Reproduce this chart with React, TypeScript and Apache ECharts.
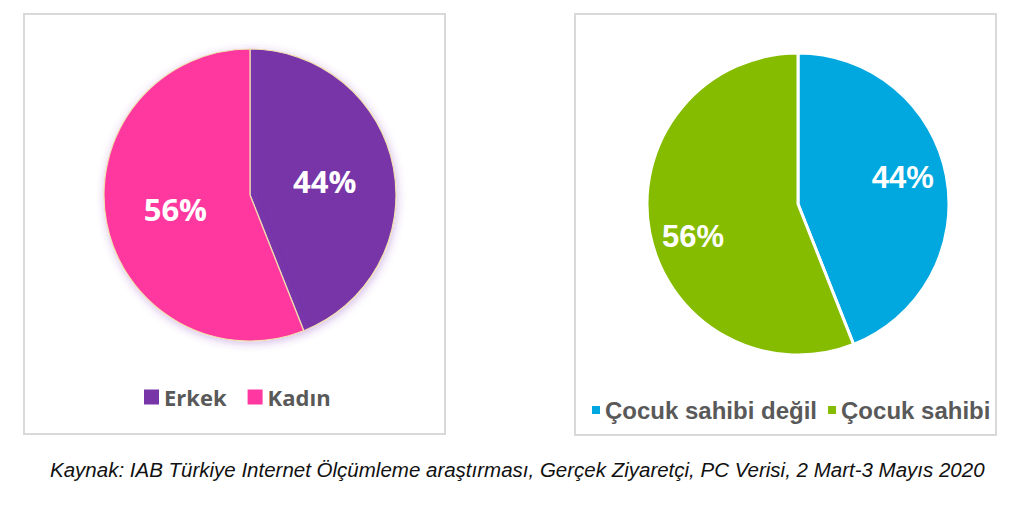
import React, { useEffect, useRef } from "react";
import * as echarts from "echarts";

const genderNames = ["Erkek", "Kadın"];
const genderValues = [44, 56];
const genderColors = ["#7735A8", "#FF37A0"];

const parentNames = ["Çocuk sahibi değil", "Çocuk sahibi"];
const parentValues = [44, 56];
const parentColors = ["#00A8DF", "#86BC00"];

const caption =
  "Kaynak: IAB Türkiye Internet Ölçümleme araştırması, Gerçek Ziyaretçi, PC Verisi, 2 Mart-3 Mayıs 2020";

export default function App() {
  const ref = useRef<HTMLDivElement>(null);
  useEffect(() => {
    if (!ref.current) return;
    const chart = echarts.init(ref.current, null, { renderer: "svg" });
    const genderData = genderNames.map((n, i) => ({
      name: n,
      value: genderValues[i],
      itemStyle: { color: genderColors[i] },
    }));
    const parentData = parentNames.map((n, i) => ({
      name: n,
      value: parentValues[i],
      itemStyle: { color: parentColors[i] },
    }));
    chart.setOption({
      animation: false,
      backgroundColor: "#ffffff",
      graphic: [
        {
          type: "rect",
          shape: { x: 24, y: 14, width: 421, height: 420 },
          style: { fill: "#fff", stroke: "#d9d9d9", lineWidth: 2 },
          z: -10,
        },
        {
          type: "rect",
          shape: { x: 575, y: 14, width: 421, height: 421 },
          style: { fill: "#fff", stroke: "#d9d9d9", lineWidth: 2 },
          z: -10,
        },
        {
          type: "text",
          x: 50,
          y: 469,
          style: {
            text: caption,
            fill: "#111",
            font: "italic 20.5px 'Liberation Sans', Arial, sans-serif",
            verticalAlign: "middle",
          },
        },
      ],
      legend: [
        {
          data: genderNames,
          left: 139,
          top: 381,
          itemWidth: 15,
          itemHeight: 15,
          itemGap: 21,
          icon: "rect",
          itemStyle: { borderWidth: 0, shadowBlur: 0 },
          textStyle: {
            color: "#595959",
            fontSize: 22,
            fontWeight: "bold",
            fontFamily: "Open Sans",
          },
        },
        {
          data: parentNames,
          left: 587,
          top: 393,
          itemWidth: 8,
          itemHeight: 8,
          itemGap: 11,
          icon: "rect",
          itemStyle: { borderWidth: 0 },
          textStyle: {
            color: "#595959",
            fontSize: 24,
            fontWeight: "bold",
            fontFamily: "Liberation Sans",
          },
        },
      ],
      series: [
        {
          type: "pie",
          center: [250, 195],
          radius: [0, 146],
          startAngle: 90,
          clockwise: true,
          data: genderData,
          label: {
            show: true,
            position: "inside",
            formatter: "{c}%",
            color: "#fff",
            fontSize: 31,
            fontWeight: "bold",
            fontFamily: "Open Sans",
          },
          labelLine: { show: false },
          itemStyle: {
            borderColor: "#f2dfb0",
            borderWidth: 1.2,
            shadowColor: "rgba(130,60,190,0.35)",
            shadowBlur: 8,
            shadowOffsetX: 1,
            shadowOffsetY: 2,
          },
          emphasis: { disabled: true },
        },
        {
          type: "pie",
          center: [798, 204],
          radius: [0, 151],
          startAngle: 90,
          clockwise: true,
          data: parentData,
          label: { show: false },
          labelLine: { show: false },
          itemStyle: { borderColor: "#ffffff", borderWidth: 3 },
          emphasis: { disabled: true },
        },
        {
          type: "pie",
          center: [798, 207],
          radius: [61, 151],
          startAngle: 95,
          clockwise: true,
          silent: true,
          legendHoverLink: false,
          data: parentData.map((d) => ({
            name: d.name,
            value: d.value,
            itemStyle: { color: "rgba(0,0,0,0)" },
          })),
          label: {
            show: true,
            position: "inside",
            formatter: "{c}%",
            color: "#fff",
            fontSize: 31,
            fontWeight: "bold",
            fontFamily: "Liberation Sans",
          },
          labelLine: { show: false },
          itemStyle: { borderWidth: 0 },
          emphasis: { disabled: true },
        },
      ],
    });
    return () => chart.dispose();
  }, []);
  return (
    <div
      ref={ref}
      style={{ position: "fixed", left: 0, top: 0, width: 1024, height: 516 }}
    />
  );
}
